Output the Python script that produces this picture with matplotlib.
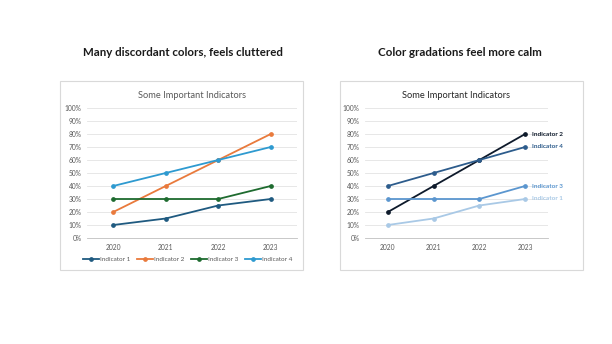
import matplotlib.pyplot as plt
from matplotlib.patches import Rectangle
from matplotlib.ticker import PercentFormatter

plt.rcParams['font.family'] = ['Lato', 'DejaVu Sans']

years = ['2020', '2021', '2022', '2023']
names = ['Indicator 1', 'Indicator 2', 'Indicator 3', 'Indicator 4']
values = [
    [0.10, 0.15, 0.25, 0.30],
    [0.20, 0.40, 0.60, 0.80],
    [0.30, 0.30, 0.30, 0.40],
    [0.40, 0.50, 0.60, 0.70],
]
loud_colors = ['#1F5A80', '#E97A3C', '#1E6B2F', '#2E9AD0']
calm_colors = ['#A9C9E6', '#0E1A2B', '#5B96CF', '#2D5C8C']
yticks = [i / 10 for i in range(11)]

W, H = 612, 344
fig = plt.figure(figsize=(W / 100, H / 100), dpi=100)


def px(x, y, w, h):
    return [x / W, 1 - (y + h) / H, w / W, h / H]


def frame(x0, x1, y0, y1):
    fig.patches.append(Rectangle((x0 / W, 1 - y1 / H), (x1 - x0) / W, (y1 - y0) / H,
                                 transform=fig.transFigure, fill=False,
                                 edgecolor='#D9D9D9', lw=0.8))


def base_axes(rect):
    ax = fig.add_axes(rect)
    xs = range(len(years))
    ax.set_xlim(-0.5, 3.5)
    ax.set_ylim(0, 1.0)
    ax.set_xticks(list(xs))
    ax.set_xticklabels(years)
    ax.set_yticks(yticks)
    ax.yaxis.set_major_formatter(PercentFormatter(1.0, decimals=0))
    ax.tick_params(length=0, labelsize=4.8, colors='#595959', pad=4)
    ax.grid(axis='y', color='#E3E3E3', lw=0.6)
    ax.set_axisbelow(True)
    for s in ['top', 'right', 'left']:
        ax.spines[s].set_visible(False)
    ax.spines['bottom'].set_color('#BFBFBF')
    ax.spines['bottom'].set_linewidth(0.6)
    return ax


# left chart
frame(60, 303, 81, 270)
ax1 = base_axes(px(87, 108, 210, 130))
for name, v, c in zip(names, values, loud_colors):
    ax1.plot(range(len(years)), v, color=c, lw=1.3, marker='o', ms=2.4, label=name)
ax1.text(0.5, 1.06, 'Some Important Indicators', transform=ax1.transAxes,
         ha='center', va='bottom', fontsize=6.7, color='#595959')
ax1.legend(loc='upper center', bbox_to_anchor=(0.48, -0.1), ncol=4, frameon=False,
           fontsize=4.6, labelcolor='#595959', handlelength=2.4, columnspacing=1.1,
           handletextpad=0.2)

# right chart
frame(340, 583, 81, 270)
ax2 = base_axes(px(365, 108, 183, 130))
for name, v, c in zip(names, values, calm_colors):
    ax2.plot(range(len(years)), v, color=c, lw=1.3, marker='o', ms=2.4)
    ax2.annotate(name, (3, v[-1]), xytext=(5, 0), textcoords='offset points',
                 va='center', ha='left', fontsize=4.6, fontweight='bold', color=c)
ax2.text(0.5, 1.06, 'Some Important Indicators', transform=ax2.transAxes,
         ha='center', va='bottom', fontsize=6.7, color='#262626')

fig.text(183 / W, 1 - 53 / H, 'Many discordant colors, feels cluttered',
         ha='center', va='center', fontsize=8.3, fontweight='bold', color='#1A1A1A')
fig.text(460 / W, 1 - 53 / H, 'Color gradations feel more calm',
         ha='center', va='center', fontsize=8.3, fontweight='bold', color='#1A1A1A')

fig.savefig('out.png', dpi=100)
